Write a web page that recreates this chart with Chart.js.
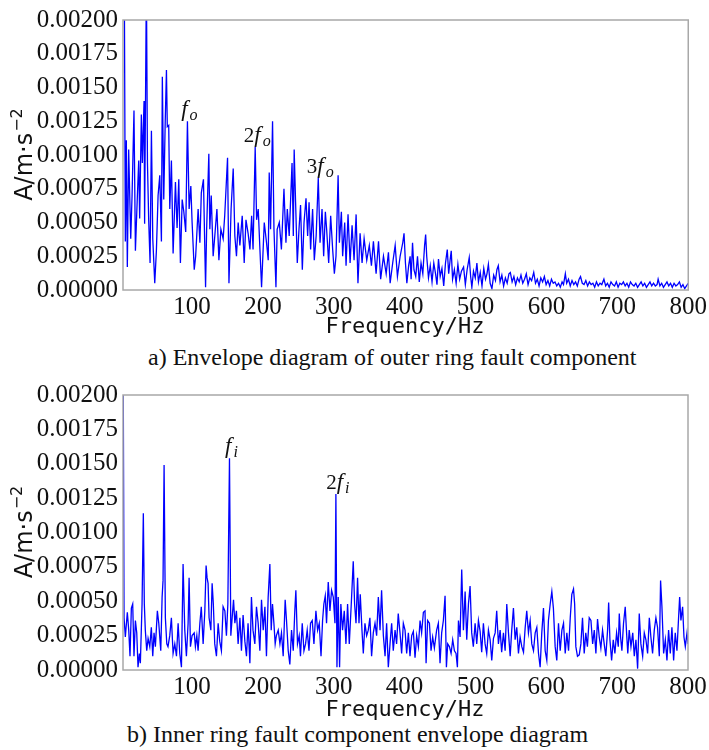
<!DOCTYPE html>
<html>
<head>
<meta charset="utf-8">
<script src="https://cdn.jsdelivr.net/npm/chart.js@4.4.0/dist/chart.umd.min.js"></script>
<style>
  body { margin: 0; background: #fff; width: 709px; height: 750px; position: relative; overflow: hidden; }
  .panel { position: absolute; left: 0; width: 709px; height: 345px; }
  .caption { position: absolute; font-family: "Liberation Serif", "Times New Roman", serif; font-size: 24px; color: #111; background: #fff; white-space: nowrap; line-height: 26px; }
</style>
</head>
<body>
<div class="panel" style="top:0"><canvas id="outerChart"></canvas></div>
<div class="caption" style="left:148px;top:344px">a) Envelope diagram of outer ring fault component</div>
<div class="panel" style="top:375px"><canvas id="innerChart"></canvas></div>
<div class="caption" style="left:127px;top:721px">b) Inner ring fault component envelope diagram</div>
<script>
// envelope spectra, amplitude in units of 1e-5 m/s^2
const outerFreq = [
  2.5, 4.5, 5.8, 7.2, 8.6, 10.5, 13.4, 15.3, 18, 20,
  22.8, 24.7, 26, 28.4, 29.8, 32.2, 33, 35.5, 37, 38.8,
  40.7, 42.6, 44.5, 47.3, 49.6, 52, 54.4, 56.7, 58, 60,
  62, 63.8, 65, 67, 68.5, 70.8, 73.2, 76.5, 78.8, 81.2,
  83.5, 86, 88.3, 91, 93.4, 95.8, 98.2, 100, 103, 105,
  108.5, 111, 113, 116, 119, 120.5, 123.6, 125, 127, 129.7,
  132, 135, 137.8, 140.6, 143.8, 146, 150, 152, 155, 158,
  160.3, 162.6, 165, 167.4, 170.7, 173.5, 176, 179, 181.6, 184,
  186, 189, 191, 193.3, 195.7, 198, 201.8, 205, 207.4, 208.8,
  210.7, 213.5, 215.5, 218.3, 220, 223, 226, 229.6, 232.4, 234.3,
  237, 241, 242.8, 244, 246, 248.4, 250.8, 253, 255.5, 257.9,
  260.7, 263, 265, 267.2, 270, 272.4, 275, 278, 280.5, 283.3,
  285.6, 288, 289.8, 292.7, 295.5, 298.3, 300.7, 303, 306, 307.8,
  310.6, 312.4, 315.3, 317.2, 320, 322.9, 325.7, 328.5, 331.4, 334,
  337, 339.8, 342.7, 346.4, 350, 353, 355.8, 359.6, 363, 366,
  370, 373.8, 377, 379.4, 383, 386.5, 389.7, 393.5, 397.2, 399,
  401, 403, 405.5, 407.6, 409, 411, 413, 415.5, 418, 420.5,
  423, 425.5, 428, 429.5, 431, 433.5, 436, 438.5, 441, 443.5,
  445.5, 447.6, 450, 452.5, 455, 457.5, 460, 462, 464, 465.6,
  467.5, 470, 472.5, 475, 477.5, 480, 483, 485.5, 488, 491,
  493, 494.7, 497, 499.5, 501.8, 504, 506.5, 509, 511.5, 514,
  516, 518, 520.5, 523, 525.5, 528, 530, 532, 534.5, 537,
  539.5, 542, 544.5, 547, 549, 551.5, 554, 556.5, 559, 561.5,
  564, 566.5, 569, 571.5, 574, 576.5, 579, 582, 584.5, 587,
  589.5, 592, 594.5, 597, 599.5, 602, 604.5, 607, 609.5, 612,
  614.5, 617, 619.5, 622, 624, 626.6, 628.5, 631, 633.5, 636,
  638.5, 641, 643.5, 646, 648, 650.5, 653, 655.5, 658, 660.5,
  663, 665.5, 668, 670.5, 673, 675.5, 678, 681, 683.5, 686,
  688.5, 691, 693.5, 696, 698.5, 701, 703.5, 706, 708.5, 711,
  713.5, 716, 718.5, 721, 723.5, 726, 728.5, 731, 733.5, 736,
  738.5, 741, 743.5, 746, 748.5, 751, 753.5, 756, 757.5, 760,
  762.5, 765, 767.5, 770, 772.5, 775, 777.5, 780, 782.5, 785,
  787.5, 790, 792.5, 795, 797.5, 800
];
const outerAmp = [
  280, 210, 36, 111, 17, 104, 38, 70, 133, 29,
  70, 96, 53, 130, 94, 140, 49, 230, 94, 51,
  20, 118, 38, 5, 29, 70, 85, 36, 158, 67,
  123, 163, 121, 122, 60, 96, 27, 80, 46, 82,
  20, 67, 58, 43, 125, 60, 77, 50, 15, 25,
  60, 35, 72, 82, 2, 45, 101, 45, 70, 25,
  40, 60, 22, 45, 38, 55, 98, 5, 60, 90,
  40, 25, 50, 33, 55, 20, 52, 42, 30, 55,
  30, 106, 52, 60, 30, 2, 50, 35, 22, 87,
  45, 125, 45, 2, 45, 50, 30, 75, 35, 60,
  40, 94, 40, 104, 65, 20, 45, 63, 15, 50,
  68, 40, 65, 30, 60, 22, 40, 83, 35, 60,
  25, 58, 45, 20, 55, 30, 12, 25, 85, 35,
  58, 25, 50, 18, 56, 20, 48, 22, 56, 5,
  42, 20, 38, 22, 33, 18, 36, 12, 36, 8,
  25, 12, 28, 5, 20, 33, 10, 25, 35, 42,
  20, 5, 18, 25, 8, 35, 15, 10, 25, 6,
  20, 12, 33, 41, 25, 9, 18, 6, 20, 12,
  4, 23, 10, 16, 3, 20, 30, 12, 22, 29,
  8, 15, 5, 19, 8, 14, 17, 4, 15, 24,
  10, 2, 14, 9, 20, 6, 13, 3, 16, 8,
  12, 19, 5, 1, 11, 7, 15, 18, 6, 11,
  3, 9, 5, 12, 13, 6, 10, 4, 9, 6,
  11, 5, 8, 12, 4, 9, 7, 13, 5, 8,
  3, 9, 6, 10, 4, 7, 3, 8, 5, 6,
  3, 5, 2, 6, 4, 12, 5, 8, 3, 7,
  4, 6, 3, 8, 10, 5, 4, 7, 3, 6,
  4, 5, 2, 6, 3, 5, 4, 8, 3, 5,
  2, 6, 4, 3, 6, 2, 5, 4, 6, 3,
  5, 2, 6, 4, 3, 5, 2, 4, 6, 3,
  5, 2, 4, 6, 3, 5, 3, 4, 8, 3,
  5, 2, 4, 6, 3, 5, 2, 5, 3, 4,
  6, 2, 4, 1, 3, 5
];

const innerFreq = [
  2.5, 4, 5.8, 8.6, 10.6, 12.4, 14.3, 16.2, 18, 20,
  21.9, 23.7, 25.6, 27, 29.4, 31.2, 32.6, 34, 36, 37.9,
  40.3, 42.5, 44.5, 46.3, 48.2, 51, 53, 55.8, 57.7, 59,
  60.5, 62.3, 64.3, 66, 68.5, 70.8, 73.2, 75.6, 78, 80.3,
  82.6, 85, 87.3, 89.7, 92, 94.4, 95.8, 97.7, 100, 103,
  104.7, 106.7, 108.5, 111, 113, 115.6, 118, 119.8, 121.2, 122.6,
  124, 126.5, 128.3, 130, 132, 134.4, 136.8, 139, 141.4, 143.8,
  146.3, 148.5, 150.5, 152.8, 154.7, 156.6, 158.5, 160.4, 162.6, 165,
  167.5, 169.7, 172, 174.5, 176.8, 179, 181.6, 183.8, 186, 188.6,
  190.9, 193.3, 195.7, 198, 200.4, 202.8, 205, 207.4, 209.8, 211.7,
  213.5, 215.5, 217.3, 219, 221.6, 224, 226.2, 228.6, 231.4, 233.3,
  235.7, 238, 240.4, 242.8, 245, 246.5, 248.8, 251.2, 253, 255.5,
  257.9, 260.2, 262.5, 265, 267.2, 269.6, 272, 274.8, 277.2, 279.5,
  282, 284.2, 286, 288, 289.8, 292.2, 294.6, 296.9, 299.3, 301.7,
  303, 304.5, 306.3, 308.2, 310, 312.4, 314.8, 317.2, 319.5, 321.9,
  324.7, 327.5, 329.4, 331.4, 333.6, 335.6, 337.4, 339.8, 341.7, 344,
  346.4, 348.7, 351, 353.4, 355.8, 358.2, 360.5, 362.9, 365.3, 367.5,
  370, 372.4, 374.6, 377, 379.4, 381.7, 384, 386.5, 388.7, 391,
  393.5, 395.8, 398.2, 400.6, 402.9, 405.3, 407.6, 410, 412.3, 414.7,
  417, 419.4, 421.8, 424, 426.5, 428.8, 430.3, 432.5, 435, 437.3,
  439.6, 442, 445.2, 447.6, 450, 452.3, 454.7, 457.1, 459, 460.8,
  463.2, 465.6, 467.9, 470.3, 472.6, 474.5, 476, 478.3, 480.6, 483,
  485.4, 487.7, 490.1, 492.4, 494.7, 497, 499.5, 501.8, 504.2, 506.6,
  508.8, 511.2, 513.6, 515.9, 518.3, 520.7, 523, 525.4, 527.8, 530,
  532.4, 534.8, 537, 539.5, 541.9, 544.2, 546.6, 549, 551.2, 553.6,
  556, 558.3, 560.7, 563, 565.4, 567.8, 570.2, 572.4, 574.8, 577.2,
  579.5, 581.9, 584.3, 586.6, 589, 591.3, 593.6, 596, 598.4, 600.7,
  603, 605.5, 607.8, 610, 612.5, 614.8, 617.2, 619.6, 622, 624.3,
  626.7, 629, 631.4, 633.8, 636, 638.4, 640, 641.7, 644, 646.5,
  648.8, 651.1, 653.5, 655.7, 658, 660.6, 663, 665.4, 667.7, 670,
  672.3, 674.7, 677, 679.4, 681.7, 684, 686.5, 688, 689.8, 692.2,
  694.5, 696.8, 699.2, 701.6, 703, 704.8, 706.7, 709, 711.4, 713.3,
  715, 717, 719.5, 722, 724.2, 726.5, 728.9, 731.2, 733.5, 736,
  738.3, 740.6, 743, 745.4, 747.6, 750, 752.4, 754.7, 757, 759.5,
  761.3, 763.2, 765.6, 768, 770.3, 772.6, 775, 777.3, 779.7, 782,
  784.4, 786.7, 788.2, 790, 792.4, 794.3, 796.2, 798.6, 800
];
const innerAmp = [
  260, 38, 24, 42, 29, 10, 45, 48, 10, 36,
  27, 2, 12, 5, 48, 114, 48, 29, 14, 23,
  17, 31, 10, 27, 17, 43, 34, 14, 53, 65,
  149, 38, 19, 17, 25, 38, 12, 19, 10, 34,
  12, 2, 77, 29, 10, 34, 67, 17, 25, 27,
  17, 25, 14, 34, 46, 19, 43, 76, 67, 63,
  38, 29, 63, 48, 19, 10, 34, 21, 14, 46,
  43, 25, 48, 154, 25, 38, 51, 34, 43, 19,
  38, 14, 40, 21, 10, 34, 5, 53, 29, 19,
  46, 34, 14, 51, 29, 46, 10, 53, 77, 29,
  48, 34, 19, 25, 29, 19, 27, 10, 51, 36,
  14, 4, 29, 14, 43, 58, 19, 25, 10, 34,
  14, 19, 29, 14, 34, 36, 19, 43, 29, 34,
  10, 36, 48, 54, 34, 64, 43, 58, 53, 34,
  128, 2, 53, 2, 48, 29, 43, 19, 48, 19,
  48, 79, 48, 34, 67, 34, 55, 29, 12, 34,
  25, 29, 38, 10, 27, 34, 25, 53, 29, 58,
  25, 10, 34, 2, 19, 34, 14, 29, 19, 41,
  27, 12, 34, 29, 12, 27, 10, 25, 28, 9,
  25, 17, 36, 27, 42, 43, 5, 36, 34, 14,
  24, 16, 29, 34, 5, 27, 36, 54, 2, 19,
  17, 12, 22, 14, 12, 2, 36, 24, 73, 29,
  57, 22, 48, 61, 27, 17, 34, 19, 36, 28,
  13, 34, 19, 12, 29, 22, 7, 23, 27, 43,
  19, 29, 13, 27, 14, 48, 27, 10, 29, 45,
  22, 31, 12, 24, 17, 13, 31, 43, 27, 36,
  19, 14, 27, 31, 12, 2, 27, 45, 14, 7,
  36, 48, 57, 45, 17, 7, 34, 14, 29, 34,
  12, 27, 14, 38, 55, 59, 48, 17, 10, 11,
  19, 38, 12, 27, 17, 38, 36, 19, 29, 12,
  37, 24, 16, 29, 19, 10, 29, 49, 22, 7,
  22, 12, 27, 17, 41, 24, 14, 34, 46, 27,
  12, 29, 17, 27, 10, 22, 1, 41, 19, 10,
  27, 22, 12, 38, 24, 12, 29, 38, 31, 10,
  65, 46, 12, 22, 7, 29, 12, 31, 7, 27,
  14, 38, 53, 36, 46, 24, 17, 27, 19
];

const freqTicks = [100, 200, 300, 400, 500, 600, 700, 800];
const ampTicks = [0, 0.00025, 0.0005, 0.00075, 0.001, 0.00125, 0.0015, 0.00175, 0.002];

// harmonic markers: label text and the spectral line it sits on
const outerPeakLabels = ['f_o', '2f_o', '3f_o'];
const outerPeakFreq = [93.4, 189, 278];
const innerPeakLabels = ['f_i', '2f_i'];
const innerPeakFreq = [152.8, 303];

const AMP_UNIT = 1e-5;
const tickFont = { family: '"Liberation Serif", "Times New Roman", serif', size: 25 };

function drawPeakLabel(ctx, label, x, y) {
    const [head, sub] = label.split('_');
    const coef = head.slice(0, -1);
    const parts = [];
    if (coef) parts.push({ t: coef, font: '21px "Liberation Serif"', dy: 0 });
    parts.push({ t: 'f', font: 'italic 23px "Liberation Serif"', dy: 0 });
    parts.push({ t: sub, font: 'italic 16px "Liberation Serif"', dy: 4 });

    let total = 0;
    parts.forEach(p => {
        ctx.font = p.font;
        p.w = ctx.measureText(p.t).width;
        total += p.w + (p.t === 'f' ? 2 : 0);
    });
    let cx = x - total / 2;
    ctx.textAlign = 'left';
    ctx.textBaseline = 'alphabetic';
    parts.forEach(p => {
        ctx.font = p.font;
        ctx.fillText(p.t, cx, y + p.dy);
        cx += p.w + (p.t === 'f' ? 2 : 0);
    });
}

const framePlugin = {
    id: 'frame',
    afterDatasetsDraw(chart, args, opts) {
        const { ctx, chartArea: a, scales } = chart;
        ctx.save();

        ctx.strokeStyle = '#a8a8a8';
        ctx.lineWidth = 1.5;
        ctx.strokeRect(a.left, a.top, a.right - a.left, a.bottom - a.top);

        ctx.fillStyle = '#111';
        opts.peakLabels.forEach((label, i) => {
            const idx = opts.freq.indexOf(opts.peakFreq[i]);
            const px = scales.x.getPixelForValue(opts.freq[idx]);
            const py = scales.y.getPixelForValue(opts.amp[idx] * AMP_UNIT);
            drawPeakLabel(ctx, label, px + 2, py - 5);
        });

        // x axis title
        ctx.font = '22px "DejaVu Sans Mono", monospace';
        ctx.textAlign = 'center';
        ctx.textBaseline = 'middle';
        ctx.fillText('Frequency/Hz', 405, a.bottom + opts.xTitleOffset);

        // y axis title with superscript exponent
        ctx.translate(32, (a.top + a.bottom) / 2);
        ctx.rotate(-Math.PI / 2);
        ctx.textBaseline = 'alphabetic';
        ctx.textAlign = 'left';
        const mainFont = '24px "DejaVu Sans", sans-serif';
        const supFont = '16px "DejaVu Sans", sans-serif';
        ctx.font = mainFont;
        const wMain = ctx.measureText('A/m·s').width;
        ctx.font = supFont;
        const wSup = ctx.measureText('\u22122').width;
        const start = -(wMain + wSup) / 2;
        ctx.font = mainFont;
        ctx.fillText('A/m·s', start, 0);
        ctx.font = supFont;
        ctx.fillText('\u22122', start + wMain + 1, -10);

        ctx.restore();
    }
};

function buildChart(canvasId, freq, amp, peakLabels, peakFreq, layout) {
    const points = freq.map((f, i) => ({ x: f, y: amp[i] * AMP_UNIT }));
    return new Chart(document.getElementById(canvasId), {
        type: 'line',
        data: {
            datasets: [{
                data: points,
                borderColor: '#0000ff',
                borderWidth: 1.3,
                pointRadius: 0,
                tension: 0,
                fill: false
            }]
        },
        options: {
            responsive: true,
            maintainAspectRatio: false,
            animation: false,
            layout: { padding: { top: layout.top, right: layout.right, left: 0, bottom: 0 } },
            plugins: {
                legend: { display: false },
                tooltip: { enabled: false },
                frame: { freq, amp, peakLabels, peakFreq, xTitleOffset: layout.xTitleOffset }
            },
            scales: {
                x: {
                    type: 'linear',
                    min: 2.5,
                    max: 800,
                    grid: { display: false, drawTicks: false },
                    border: { display: false },
                    afterBuildTicks: s => { s.ticks = freqTicks.map(v => ({ value: v })); },
                    afterFit: s => { s.height = layout.axisHeight; },
                    ticks: { font: tickFont, color: '#111', padding: 2, maxRotation: 0, autoSkip: false }
                },
                y: {
                    min: 0,
                    max: 0.002,
                    grid: { display: false, drawTicks: false },
                    border: { display: false },
                    afterBuildTicks: s => { s.ticks = ampTicks.map(v => ({ value: v })); },
                    afterFit: s => { s.width = 123; },
                    ticks: {
                        font: tickFont,
                        color: '#111',
                        padding: 5,
                        autoSkip: false,
                        callback: v => v.toFixed(5)
                    }
                }
            }
        },
        plugins: [framePlugin]
    });
}

buildChart('outerChart', outerFreq, outerAmp, outerPeakLabels, outerPeakFreq,
    { top: 14, right: 20, axisHeight: 55, xTitleOffset: 37 });
buildChart('innerChart', innerFreq, innerAmp, innerPeakLabels, innerPeakFreq,
    { top: 18, right: 21, axisHeight: 50, xTitleOffset: 40 });
</script>
</body>
</html>
